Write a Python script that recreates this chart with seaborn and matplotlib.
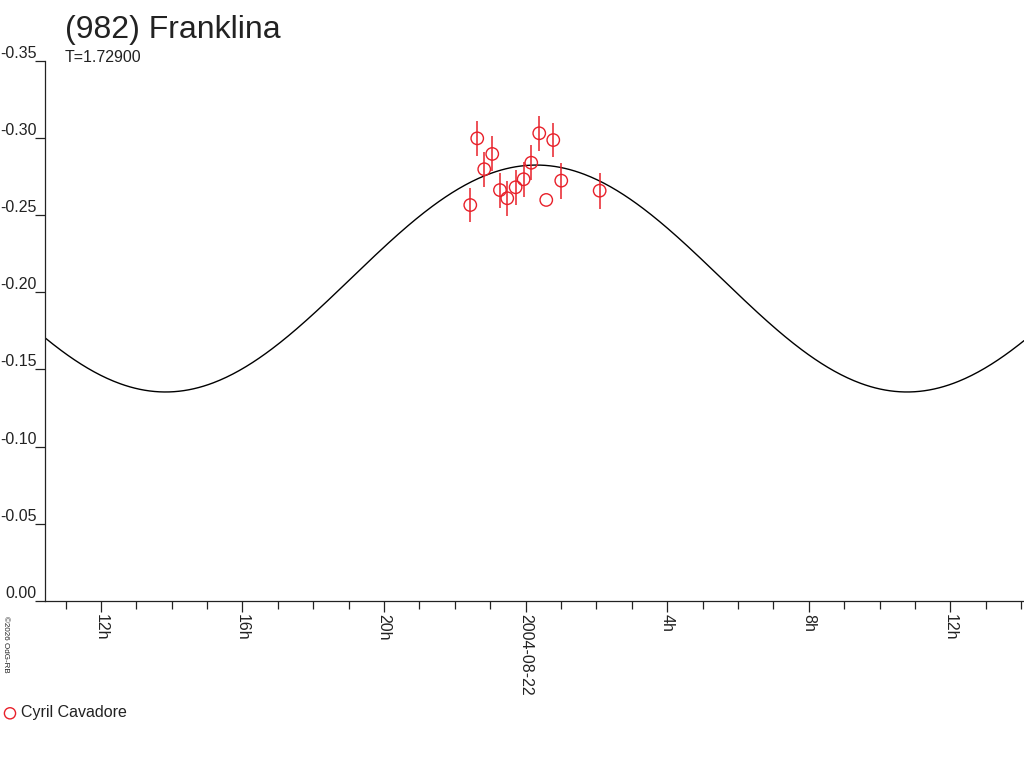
import numpy as np
import pandas as pd
import seaborn as sns
from matplotlib import pyplot as plt
from matplotlib.ticker import FixedLocator, FixedFormatter

# Observations (hours relative to 2004-08-22 0h, reduced magnitude, error)
obsHours = [-1.565, -1.368, -1.170, -0.944, -0.726, -0.520, -0.283, -0.057,
            0.158, 0.384, 0.582, 0.780, 1.006, 2.091]
obsMag = [-0.2565, -0.2997, -0.2797, -0.2896, -0.2662, -0.2609, -0.2680, -0.2732,
          -0.2839, -0.3030, -0.2598, -0.2986, -0.2723, -0.2658]
obsErr = [0.0113, 0.0113, 0.0113, 0.0113, 0.0113, 0.0113, 0.0112, 0.0113,
          0.0113, 0.0113, 0.0, 0.0113, 0.0116, 0.0116]
observer = 'Cyril Cavadore'

# Fitted lightcurve parameters
curvePeriod = 20.95   # hours
curveEpoch = 0.30     # hour of maximum
curveMean = -0.2089
curveAmp = 0.0735

hourTicks = [-12, -8, -4, 0, 4, 8, 12]
hourLabels = ['12h', '16h', '20h', '2004-08-22', '4h', '8h', '12h']
magTicks = [0.0, -0.05, -0.10, -0.15, -0.20, -0.25, -0.30, -0.35]
magLabels = ['0.00', '-0.05', '-0.10', '-0.15', '-0.20', '-0.25', '-0.30', '-0.35']

xMin, xMax = -13.58, 14.08

sns.set_theme(style='white')
plt.rcParams['font.family'] = ['Liberation Sans', 'DejaVu Sans']

fig = plt.figure(figsize=(10.24, 7.68), dpi=100)
ax = fig.add_axes([45 / 1024, 1 - 601 / 768, 1 - 45 / 1024, (601 - 60.7) / 768])

# model curve
tCurve = np.linspace(xMin, xMax, 600)
curve = pd.DataFrame({
    'hours': tCurve,
    'mag': curveMean - curveAmp * np.cos(2 * np.pi * (tCurve - curveEpoch) / curvePeriod),
})
sns.lineplot(data=curve, x='hours', y='mag', color='black', linewidth=1.0, ax=ax)

# observations
obs = pd.DataFrame({'hours': obsHours, 'mag': obsMag, 'err': obsErr})
ax.errorbar(obs['hours'], obs['mag'], yerr=obs['err'], fmt='none',
            ecolor='#e8202a', elinewidth=1.1, capsize=0)
sns.scatterplot(data=obs, x='hours', y='mag', marker='o', s=80,
                facecolors='none', edgecolor='#e8202a', linewidth=1.0,
                label=observer, ax=ax, zorder=3)

ax.set_xlim(xMin, xMax)
ax.set_ylim(0, -0.35)
ax.set_xlabel('')
ax.set_ylabel('')

# x ticks: every hour, labelled every 4 hours
ax.xaxis.set_major_locator(FixedLocator(hourTicks))
ax.xaxis.set_major_formatter(FixedFormatter(hourLabels))
ax.xaxis.set_minor_locator(FixedLocator(list(range(-13, 15))))
ax.tick_params(axis='x', which='major', direction='out', length=8, width=0.9,
               color='#222222', labelsize=11.5, pad=1, labelrotation=-90,
               labelcolor='#222222', bottom=True)
ax.tick_params(axis='x', which='minor', direction='out', length=6, width=0.9,
               color='#222222', bottom=True)
for lbl in ax.get_xticklabels():
    lbl.set_va('top')
    lbl.set_ha('center')

# y ticks
ax.yaxis.set_major_locator(FixedLocator(magTicks))
ax.yaxis.set_major_formatter(FixedFormatter(magLabels))
ax.tick_params(axis='y', direction='out', length=7, width=0.9, color='#222222',
               labelsize=11.5, pad=-1, labelcolor='#222222', left=True)
for lbl in ax.get_yticklabels():
    lbl.set_va('bottom')

for side in ['top', 'right']:
    ax.spines[side].set_visible(False)
for side in ['left', 'bottom']:
    ax.spines[side].set_color('#222222')
    ax.spines[side].set_linewidth(0.9)

# titles and notes
fig.text(65 / 1024, 1 - 30 / 768, '(982) Franklina', fontsize=23, color='#222222',
         va='center', ha='left')
fig.text(65 / 1024, 1 - 58 / 768, 'T=1.72900', fontsize=11.5, color='#222222',
         va='center', ha='left')
fig.text(5 / 1024, 1 - 644 / 768, '\u00a92026 OdG-RB', fontsize=5.8, color='#222222',
         rotation=-90, va='center', ha='center')

ax.legend(loc='center left', bbox_to_anchor=(2 / 1024, 1 - 713 / 768),
          bbox_transform=fig.transFigure, frameon=False, fontsize=11.5,
          handletextpad=0.2, handlelength=1.0, borderaxespad=0, borderpad=0,
          labelcolor='#222222', markerscale=0.9)

plt.savefig('out.png', dpi=100)
